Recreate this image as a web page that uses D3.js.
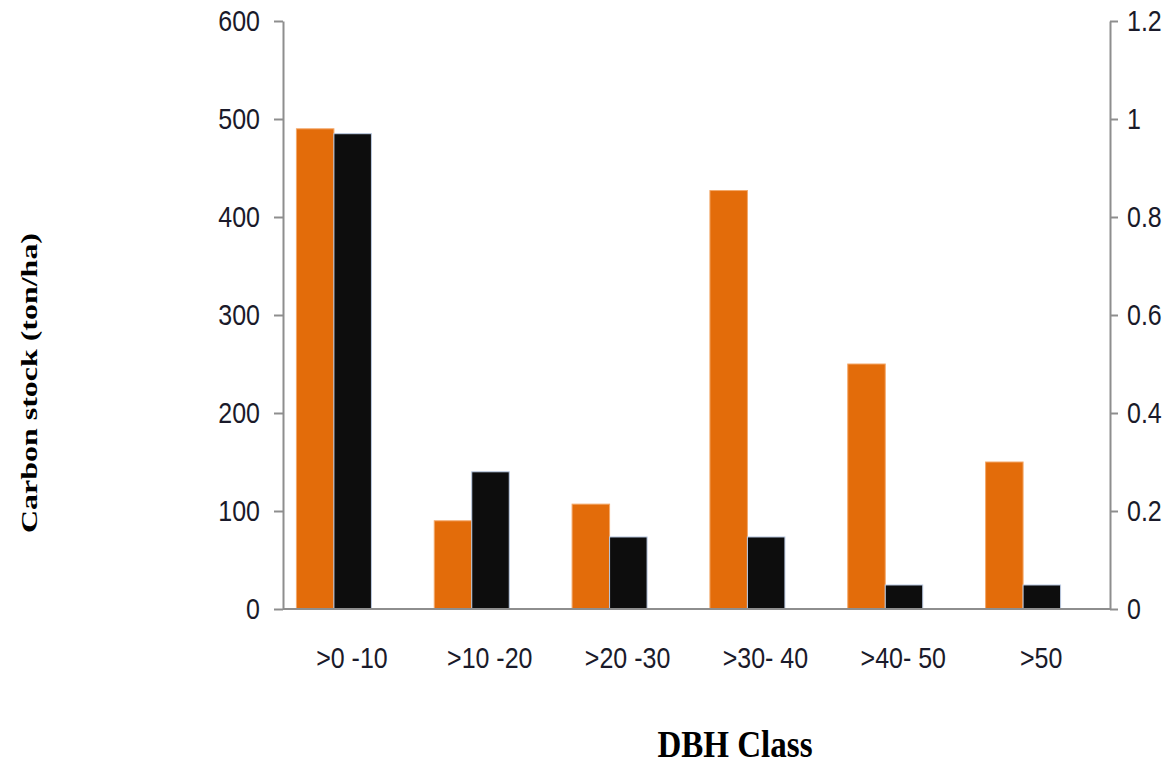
<html>
<head>
<style>
  body { margin: 0; background: #ffffff; }
  .tick text { font-family: "Liberation Sans", Arial, sans-serif; font-size: 25px; fill: #1a1a2a; }
  .axis path, .axis line { stroke: #8e8e8e; stroke-width: 2; }
</style>
</head>
<body>
<svg id="chart" width="1175" height="765"></svg>

<script src="https://cdn.jsdelivr.net/npm/d3@7/dist/d3.min.js"></script>
<script>
  // data
  let classes = [">0 -10", ">10 -20", ">20 -30", ">30- 40", ">40- 50", ">50"]
  let carbonStock = [490, 90, 107, 427, 250, 150]       // left axis (ton/ha)
  let secondSeries = [0.97, 0.28, 0.147, 0.147, 0.049, 0.049] // right axis
  let leftTicks = [0, 100, 200, 300, 400, 500, 600]
  let rightTicks = [0, 0.2, 0.4, 0.6, 0.8, 1, 1.2]

  let svg = d3.select("#chart")

  let plotLeft = 283, plotRight = 1110
  let plotTop = 21, plotBottom = 609
  let stretch = 1.18

  let x = d3.scaleBand()
    .domain(classes)
    .range([plotLeft, plotRight])

  let yLeft = d3.scaleLinear().domain([0, 600]).range([plotBottom, plotTop])
  let yRight = d3.scaleLinear().domain([0, 1.2]).range([plotBottom, plotTop])

  let barW = 37.5
  let shift = -18 // bars sit a bit left of the label centres

  // bars
  let groups = svg.append("g").selectAll("g")
    .data(classes)
    .enter()
    .append("g")

  groups.append("rect")
    .attr("x", (d, i) => x(d) + x.bandwidth() / 2 + shift - barW)
    .attr("y", (d, i) => yLeft(carbonStock[i]))
    .attr("width", barW)
    .attr("height", (d, i) => yLeft(0) - yLeft(carbonStock[i]))
    .attr("fill", "#e36c0a")
    .attr("stroke", "#f3a86a")
    .attr("stroke-width", 1)

  groups.append("rect")
    .attr("x", (d, i) => x(d) + x.bandwidth() / 2 + shift)
    .attr("y", (d, i) => yRight(secondSeries[i]))
    .attr("width", barW)
    .attr("height", (d, i) => yRight(0) - yRight(secondSeries[i]))
    .attr("fill", "#0d0d0d")
    .attr("stroke", "#bccbe3")
    .attr("stroke-width", 1)

  // left axis
  let leftAxis = svg.append("g")
    .attr("class", "axis")
    .attr("transform", "translate(" + plotLeft + ",0)")
    .call(d3.axisLeft(yLeft).tickValues(leftTicks).tickSize(9).tickSizeOuter(0).tickPadding(14))
  leftAxis.selectAll("text").attr("transform", "scale(1," + stretch + ")")

  // right axis
  let rightAxis = svg.append("g")
    .attr("class", "axis")
    .attr("transform", "translate(" + plotRight + ",0)")
    .call(d3.axisRight(yRight).tickValues(rightTicks).tickSize(8).tickSizeOuter(0).tickPadding(9)
      .tickFormat(d => String(d)))
  rightAxis.selectAll("text").attr("transform", "scale(1," + stretch + ")")

  // baseline
  svg.append("line")
    .attr("x1", plotLeft).attr("x2", plotRight)
    .attr("y1", yLeft(0)).attr("y2", yLeft(0))
    .attr("stroke", "#8e8e8e")
    .attr("stroke-width", 2)

  // category labels
  svg.append("g").selectAll("text")
    .data(classes)
    .enter()
    .append("text")
    .attr("transform", d => "translate(" + (x(d) + x.bandwidth() / 2) + ",668) scale(1," + stretch + ")")
    .attr("text-anchor", "middle")
    .style("font-family", "'Liberation Sans', Arial, sans-serif")
    .style("font-size", "25px")
    .style("fill", "#1a1a2a")
    .text(d => d)

  // axis titles
  svg.append("text")
    .attr("x", 735)
    .attr("y", 757)
    .attr("text-anchor", "middle")
    .attr("textLength", 155)
    .attr("lengthAdjust", "spacingAndGlyphs")
    .style("font-family", "'Liberation Serif', 'Times New Roman', serif")
    .style("font-weight", "bold")
    .style("font-size", "37px")
    .style("fill", "#000")
    .text("DBH Class")

  svg.append("text")
    .attr("transform", "translate(37,383) rotate(-90)")
    .attr("text-anchor", "middle")
    .attr("textLength", 300)
    .attr("lengthAdjust", "spacingAndGlyphs")
    .style("font-family", "'Liberation Serif', 'Times New Roman', serif")
    .style("font-weight", "bold")
    .style("font-size", "24px")
    .style("fill", "#000")
    .text("Carbon stock (ton/ha)")
</script>
</body>
</html>
